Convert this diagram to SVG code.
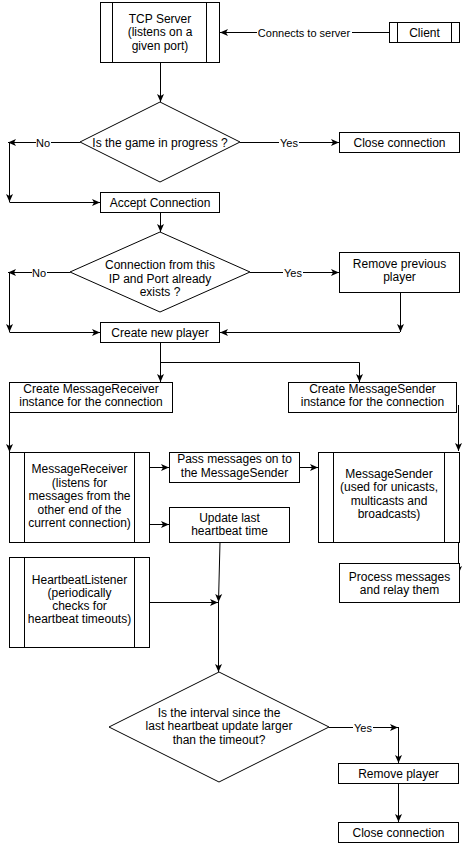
<svg xmlns="http://www.w3.org/2000/svg" width="468" height="844" viewBox="0 0 468 844">
<defs>
<style>
.n{fill:#fff;stroke:#000;stroke-width:1}
.i{stroke:#000;stroke-width:1;fill:none}
.t{font-family:"Liberation Sans",Arial,Helvetica,sans-serif;font-size:12px;fill:#000;text-anchor:middle}
.e{stroke:#000;stroke-width:1;fill:none;marker-end:url(#ah)}
.l{font-family:"Liberation Sans",Arial,Helvetica,sans-serif;font-size:11px;fill:#000;text-anchor:middle}
.lb{fill:#fff;stroke:none}
</style>
<marker id="ah" markerUnits="userSpaceOnUse" markerWidth="10" markerHeight="8" refX="9" refY="4" orient="auto">
<path d="M1,0.5 L9,4 L1,7.5 L3,4 z" fill="#000"/>
</marker>
</defs>
<rect width="468" height="844" fill="#fff"/>
<g id="connectors">
<path class="e" d="M389,32.5 L220,32.5"/>
<path class="e" d="M160.5,62 L160.5,102"/>
<path class="e" d="M240,142.5 L339,142.5"/>
<path class="e" d="M80,142.5 L8,142.5"/>
<path class="e" d="M9.5,142 L9.5,202"/>
<path class="e" d="M9.5,202.5 L100,202.5"/>
<path class="e" d="M160.5,212 L160.5,232"/>
<path class="e" d="M250,272.5 L339,272.5"/>
<path class="e" d="M70,272.5 L8,272.5"/>
<path class="e" d="M9.5,272 L9.5,332"/>
<path class="e" d="M9.5,332.5 L100,332.5"/>
<path class="e" d="M400.5,292 L400.5,332"/>
<path class="e" d="M400,332.5 L220,332.5"/>
<path class="e" d="M160.5,342 L160.5,382"/>
<path class="e" d="M160.5,362.5 L359.5,362.5 L359.5,382"/>
<path class="e" d="M9.5,412 L9.5,452"/>
<path class="e" d="M458.5,405 L458.5,451"/>
<path class="e" d="M149,467.5 L169,467.5"/>
<path class="e" d="M299,467.5 L318,467.5"/>
<path class="e" d="M149,524.5 L169,524.5"/>
<path class="e" d="M220,542 L218.5,602"/>
<path class="e" d="M149,602.5 L218,602.5"/>
<path class="e" d="M218.5,602 L218.5,672"/>
<path class="e" d="M329,727.5 L398,727.5"/>
<path class="e" d="M398.5,727 L398.5,763"/>
<path class="e" d="M458.5,542 L458.5,574"/>
<path class="e" d="M398.5,783 L398.5,822"/>
<rect class="lb" x="257" y="26" width="95" height="13"/>
<text class="l" x="304" y="36.5">Connects to server</text>
<rect class="lb" x="279" y="136" width="20" height="13"/>
<text class="l" x="289" y="146.5">Yes</text>
<rect class="lb" x="36" y="136" width="15" height="13"/>
<text class="l" x="43" y="146.5">No</text>
<rect class="lb" x="283" y="266" width="20" height="13"/>
<text class="l" x="293" y="276.5">Yes</text>
<rect class="lb" x="32" y="266" width="15" height="13"/>
<text class="l" x="39" y="276.5">No</text>
<rect class="lb" x="353" y="721" width="20" height="13"/>
<text class="l" x="363" y="731.5">Yes</text>
</g>
<g id="tcp-server">
<rect class="n" x="100.5" y="2.5" width="119" height="60"/>
<path class="i" d="M112.5,2.5 V62.5 M206.5,2.5 V62.5"/>
<text class="t" x="160" y="22.5">TCP Server</text>
<text class="t" x="160" y="36">(listens on a</text>
<text class="t" x="160" y="49.5">given port)</text>
</g>
<g id="client">
<rect class="n" x="389.5" y="22.5" width="70" height="20"/>
<path class="i" d="M397.5,22.5 V42.5 M451.5,22.5 V42.5"/>
<text class="t" x="424.5" y="36.5">Client</text>
</g>
<g id="game-in-progress">
<polygon class="n" points="160,102 240,142 160,182 80,142"/>
<text class="t" x="160" y="146.5">Is the game in progress ?</text>
</g>
<g id="close-connection-1">
<rect class="n" x="339.5" y="132.5" width="120" height="20"/>
<text class="t" x="399.5" y="146.5">Close connection</text>
</g>
<g id="accept-connection">
<rect class="n" x="100.5" y="192.5" width="119" height="20"/>
<text class="t" x="160" y="206.5">Accept Connection</text>
</g>
<g id="connection-exists">
<polygon class="n" points="160,232 250,272 160,312 70,272"/>
<text class="t" x="160" y="268.5">Connection from this</text>
<text class="t" x="160" y="282.5">IP and Port already</text>
<text class="t" x="160" y="296">exists ?</text>
</g>
<g id="remove-previous-player">
<rect class="n" x="339.5" y="252.5" width="120" height="40"/>
<text class="t" x="399.5" y="267.5">Remove previous</text>
<text class="t" x="399.5" y="281">player</text>
</g>
<g id="create-new-player">
<rect class="n" x="100.5" y="322.5" width="119" height="20"/>
<text class="t" x="160" y="336.5">Create new player</text>
</g>
<g id="create-message-receiver">
<rect class="n" x="9.5" y="382.5" width="163" height="30"/>
<text class="t" x="91" y="392.5">Create MessageReceiver</text>
<text class="t" x="91" y="406">instance for the connection</text>
</g>
<g id="create-message-sender">
<rect class="n" x="288.5" y="382.5" width="168" height="30"/>
<text class="t" x="372.5" y="392.5">Create MessageSender</text>
<text class="t" x="372.5" y="406">instance for the connection</text>
</g>
<g id="message-receiver">
<rect class="n" x="9.5" y="452.5" width="140" height="90"/>
<path class="i" d="M24.5,452.5 V542.5 M134.5,452.5 V542.5"/>
<text class="t" x="79.5" y="473">MessageReceiver</text>
<text class="t" x="79.5" y="486.5">(listens for</text>
<text class="t" x="79.5" y="500">messages from the</text>
<text class="t" x="79.5" y="513.5">other end of the</text>
<text class="t" x="79.5" y="527">current connection)</text>
</g>
<g id="pass-messages">
<rect class="n" x="169.5" y="452.5" width="130" height="30"/>
<text class="t" x="234.5" y="463">Pass messages on to</text>
<text class="t" x="234.5" y="476.5">the MessageSender</text>
</g>
<g id="message-sender">
<rect class="n" x="318.5" y="452.5" width="141" height="90"/>
<path class="i" d="M333.5,452.5 V542.5 M444.5,452.5 V542.5"/>
<text class="t" x="389" y="477.5">MessageSender</text>
<text class="t" x="389" y="491">(used for unicasts,</text>
<text class="t" x="389" y="504.5">multicasts and</text>
<text class="t" x="389" y="518">broadcasts)</text>
</g>
<g id="update-heartbeat">
<rect class="n" x="169.5" y="507.5" width="120" height="35"/>
<text class="t" x="229.5" y="521.5">Update last</text>
<text class="t" x="229.5" y="534.5">heartbeat time</text>
</g>
<g id="heartbeat-listener">
<rect class="n" x="9.5" y="557.5" width="140" height="90"/>
<path class="i" d="M24.5,557.5 V647.5 M134.5,557.5 V647.5"/>
<text class="t" x="79.5" y="584">HeartbeatListener</text>
<text class="t" x="79.5" y="596.5">(periodically</text>
<text class="t" x="79.5" y="610">checks for</text>
<text class="t" x="79.5" y="623">heartbeat timeouts)</text>
</g>
<g id="process-messages">
<rect class="n" x="339.5" y="563.5" width="120" height="39"/>
<text class="t" x="399.5" y="580.5">Process messages</text>
<text class="t" x="399.5" y="594">and relay them</text>
</g>
<g id="interval-check">
<polygon class="n" points="219,672 329,727 219,782 109,727"/>
<text class="t" x="219" y="717">Is the interval since the</text>
<text class="t" x="219" y="730">last heartbeat update larger</text>
<text class="t" x="219" y="743.5">than the timeout?</text>
</g>
<g id="remove-player">
<rect class="n" x="338.5" y="763.5" width="120" height="20"/>
<text class="t" x="398.5" y="777.5">Remove player</text>
</g>
<g id="close-connection-2">
<rect class="n" x="338.5" y="822.5" width="120" height="20"/>
<text class="t" x="398.5" y="836.5">Close connection</text>
</g>
</svg>
